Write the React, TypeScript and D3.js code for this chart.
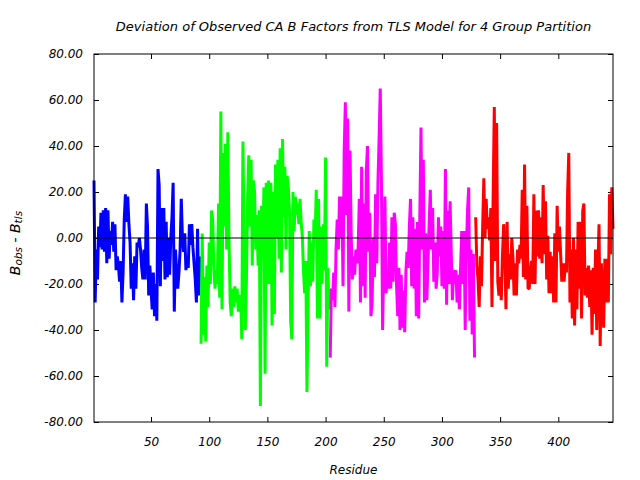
import React, { useEffect, useRef } from "react";
import * as d3 from "d3";

// B_obs - B_tls per residue, one array per TLS group
const blueValues = [
  25, -28, -5, -18, 5, -4, 11, -5, 12, -6, 13, -11, 12, -9, 3, -3, 7, -6, 6, -14,
  -8, -12, -19, -10, -28, -15, 8, 19, 7, 18, 6, -2, -22, -11, -27, -8, -22, -2, -4, 0,
  -5, -13, -18, -5, -18, 15, 5, -25, -12, -22, -31, -15, -34, -20, -36, 30, 23, -21, 13, -10,
  13, -18, 7, -17, 0, -16, 0, 9, 24, -32, -5, -14, -22, -15, -5, 17, 0, -6, 2, -14,
  -8, -13, 6, -3, 6, -4, -11, -18, -28, 4, -25, -8,
];
const greenValues = [
  -46, 2, -42, -17, -45, -12, -30, -2, -20, 12, 8, -13, -22, -14, -20, 15, -26, 55, -31, 37,
  5, 41, -5, 46, 0, -28, -34, -22, -30, -21, -28, -22, -32, -26, -25, -44, 42, -2, -40, -18,
  17, 36, 5, 34, -12, 25, 20, -5, 10, -12, 12, -73, 14, -8, 22, -59, 24, -20, 25, -20,
  24, -38, 20, -33, 32, 0, 34, -9, 39, -15, 43, 9, 31, -5, 27, 22, 12, -36, -44, 20,
  3, 18, 10, 15, 6, 17, 7, 1, -14, -24, -10, -67, -27, 3, -21, -2, -19, 8, 0, 21,
  -35, 17, -35, 5, -20, 6, -14, 35, -56, -13, -31,
];
const magentaValues = [
  -52, -22, -27, -15, -30, -5, 8, -5, 18, 0, 18, -21, 38, 59, 10, 52, -32, 38, 2, -18,
  -8, -16, -5, -11, -4, 17, -28, 31, -21, 15, -26, 29, 40, -6, 11, -34, -28, 0, -17, 19,
  -11, 24, 43, 65, 25, -40, -10, 18, -24, -16, -22, -2, -22, 9, -19, 11, 6, -21, -34, -13,
  -40, -16, -39, -23, -41, -15, -6, -13, 5, 17, -21, 9, -22, 4, -34, 7, -35, 10, 48, -5,
  34, -28, 2, -27, -11, 6, 21, -5, 13, -19, -2, -22, -15, 9, -8, 5, -21, 3, -22, 30,
  -29, 12, -20, 16, -6, -27, -14, -20, -14, -28, -16, -31, -13, 3, -20, 3, -40, -5, 12, 22,
  -36, -5, -42, -7, -52,
];
const redValues = [
  9, -12, -18, -30, -8, -21, 5, 26, 0, 17, 4, 9, -1, 13, -30, 18, 57, -10, 50, -19,
  -25, -17, -27, -8, 6, -4, -31, 7, -22, -7, -18, 0, -8, -25, -11, -25, -5, -11, -3, -9,
  21, -17, 32, -18, 14, -22, -22, -14, -10, -20, 19, -20, 12, -8, 12, -9, 9, -11, 23, -7,
  16, -18, 1, -24, -6, -24, -8, -28, 2, -28, 14, -6, 5, -7, -19, -11, -19, -11, -15, 20,
  37, -28, -5, -35, 0, -38, -5, -31, 7, -22, 7, -35, 12, 15, -25, -13, -26, -12, -30, -14,
  -42, -13, -33, -5, -40, -13, 6, -47, -11, -27, -39, -9, -28, -9, -28, 19, -7, 22, 4,
];

const groupStarts = [1, 93, 204, 329];
const groupColors = ["#0000ff", "#00ff00", "#ff00ff", "#ff0000"];
const groupValues = [blueValues, greenValues, magentaValues, redValues];

const residueRange = [1, 447];
const xTicks = [50, 100, 150, 200, 250, 300, 350, 400];
const yTicks = [-80, -60, -40, -20, 0, 20, 40, 60, 80];

const font = "DejaVu Sans, Verdana, sans-serif";

export default function App() {
  const ref = useRef<SVGSVGElement>(null);

  useEffect(() => {
    const svg = d3.select(ref.current);
    svg.selectAll("*").remove();

    const margin = { top: 54, right: 27, bottom: 58, left: 94 };
    const width = 640 - margin.left - margin.right;
    const height = 480 - margin.top - margin.bottom;

    const g = svg
      .append("g")
      .attr("transform", `translate(${margin.left},${margin.top})`);

    const x = d3.scaleLinear().domain(residueRange).range([0, width]);
    const y = d3.scaleLinear().domain([-80, 80]).range([height, 0]);

    const styleAxis = (sel: any) => {
      sel.select(".domain").remove();
      sel.attr("font-family", font).attr("font-size", 12);
      sel.selectAll("line").attr("stroke", "#000");
      sel.selectAll("text").attr("font-style", "italic").attr("fill", "#000");
    };

    g.append("g")
      .attr("transform", `translate(0,${height})`)
      .call(d3.axisBottom(x).tickValues(xTicks).tickSizeInner(-5).tickSizeOuter(0).tickPadding(15))
      .call(styleAxis);
    g.append("g")
      .call(d3.axisTop(x).tickValues(xTicks).tickSizeInner(-5).tickSizeOuter(0).tickFormat(() => ""))
      .call(styleAxis);
    g.append("g")
      .call(
        d3
          .axisLeft(y)
          .tickValues(yTicks)
          .tickSizeInner(-5)
          .tickSizeOuter(0)
          .tickPadding(11)
          .tickFormat((d: any) => d3.format(".2f")(d).replace("\u2212", "-"))
      )
      .call(styleAxis);
    g.append("g")
      .attr("transform", `translate(${width},0)`)
      .call(d3.axisRight(y).tickValues(yTicks).tickSizeInner(-5).tickSizeOuter(0).tickFormat(() => ""))
      .call(styleAxis);

    // one line per group
    groupValues.forEach((values, k) => {
      g.append("path")
        .datum(values)
        .attr("fill", "none")
        .attr("stroke", groupColors[k])
        .attr("stroke-width", 3)
        .attr("stroke-linejoin", "bevel")
        .attr(
          "d",
          d3
            .line<number>()
            .x((d, i) => x(groupStarts[k] + i))
            .y((d) => y(d))
        );
    });

    // zero axis
    g.append("line")
      .attr("x1", 0)
      .attr("x2", width)
      .attr("y1", y(0))
      .attr("y2", y(0))
      .attr("stroke", "#000")
      .attr("stroke-width", 1);

    // border
    g.append("rect")
      .attr("x", 0)
      .attr("y", 0)
      .attr("width", width)
      .attr("height", height)
      .attr("fill", "none")
      .attr("stroke", "#000")
      .attr("stroke-width", 1);

    svg
      .append("text")
      .attr("x", margin.left + width / 2)
      .attr("y", 31)
      .attr("text-anchor", "middle")
      .attr("font-family", font)
      .attr("font-size", 13)
      .attr("font-style", "italic")
      .text("Deviation of Observed CA B Factors from TLS Model for 4 Group Partition");

    svg
      .append("text")
      .attr("x", margin.left + width / 2)
      .attr("y", 474)
      .attr("text-anchor", "middle")
      .attr("font-family", font)
      .attr("font-size", 12)
      .attr("font-style", "italic")
      .text("Residue");

    const yl = svg
      .append("text")
      .attr("transform", `translate(19.5,243) rotate(-90)`)
      .attr("text-anchor", "middle")
      .attr("font-family", font)
      .attr("font-size", 14)
      .attr("font-style", "italic");
    yl.append("tspan").text("B");
    yl.append("tspan").attr("font-size", 10.5).attr("dy", 2).text("obs");
    yl.append("tspan").attr("dy", -2).text(" - B");
    yl.append("tspan").attr("font-size", 10.5).attr("dy", 2).text("tls");
  }, []);

  return (
    <svg
      ref={ref}
      width={640}
      height={480}
      style={{ position: "absolute", left: 0, top: 0, background: "#fff" }}
    />
  );
}
